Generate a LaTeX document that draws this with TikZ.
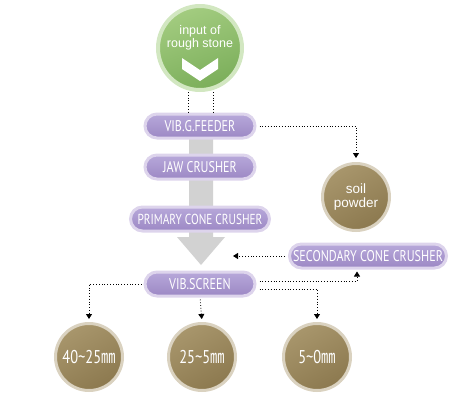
\documentclass[tikz,border=0pt]{standalone}
\usepackage{fontspec}
\setmainfont{Liberation Sans}
\newfontfamily\pillfont{PT Sans}
\newfontfamily\cjk{Noto Sans CJK KR}
\usetikzlibrary{positioning}
\usetikzlibrary{arrows.meta}
\usetikzlibrary{backgrounds}

\definecolor{leaf}{HTML}{8DC06B}
\definecolor{leaflight}{HTML}{A3CC80}
\definecolor{leafdark}{HTML}{7BAE5A}
\definecolor{leafrim}{HTML}{D2E7C1}
\definecolor{lilac}{HTML}{9C88C4}
\definecolor{lilaclight}{HTML}{B7A8DA}
\definecolor{lilacrim}{HTML}{DDD4EC}
\definecolor{clay}{HTML}{8C794F}
\definecolor{claylight}{HTML}{A8966C}
\definecolor{clayrim}{HTML}{DAD2C0}
\definecolor{barcol}{HTML}{D2D2D2}

\newcommand{\narrow}[1]{\scalebox{0.78}[1]{#1}}
\newcommand{\unitmm}{{\cjk ㎜}}

\begin{document}
\begin{tikzpicture}[x=1pt,y=-1pt,
    pill/.style={rectangle, rounded corners=12pt, minimum width=110pt,
      minimum height=24pt, inner sep=0pt, line width=3pt, draw=lilacrim,
      top color=lilaclight, bottom color=lilac, text=white,
      font=\pillfont\fontsize{15.5}{15.5}\selectfont},
    greenball/.style={circle, minimum size=84pt, inner sep=0pt,
      line width=4pt, draw=leafrim, top color=leaflight, bottom color=leafdark,
      shading angle=20},
    brownball/.style={circle, minimum size=67pt, inner sep=0pt,
      line width=3pt, draw=clayrim, top color=claylight, bottom color=clay,
      shading angle=30, text=white, align=center},
    balltext/.style={text=white, align=center, inner sep=0pt,
      font=\fontsize{12.5}{13.5}\selectfont},
    sizetext/.style={font=\pillfont\fontsize{18.5}{18.5}\selectfont},
    flow/.style={dotted, line width=0.8pt, -{Triangle[width=6pt,length=5pt]}},
    feed/.style={dotted, line width=0.8pt}]
  \useasboundingbox (0,0) rectangle (472,400);

  % main chain
  \node[greenball] (input) at (200,48) {};
  \node[balltext] (inputtext) at (200,38) {input of\\rough stone};
  \fill[white] (input.center) ++(-18,10) -- ++(18,12) -- ++(18,-12)
    -- ++(0,11) -- ++(-18,12) -- ++(-18,-12) -- cycle;

  \node[pill] (feeder) at (200,126) {\narrow{VIB.G.FEEDER}};
  \node[pill] (jaw) at (200,167) {\narrow{JAW CRUSHER}};
  \node[pill, minimum width=139pt, font=\pillfont\fontsize{14.5}{14.5}\selectfont]
    (primary) at (200,219) {\narrow{PRIMARY CONE CRUSHER}};
  \node[pill] (screen) at (200,284) {\narrow{VIB.SCREEN}};
  \node[pill, minimum width=157pt] (secondary) at (368,256)
    {\narrow{SECONDARY CONE CRUSHER}};

  % products
  \node[brownball, font=\fontsize{13.5}{13.5}\selectfont] (soil) at (356,197)
    {soil\\powder};
  \node[brownball, sizetext] (coarse) at (89,357)
    {\narrow{40\textasciitilde 25\unitmm}};
  \node[brownball, sizetext] (medium) at (202,357)
    {\narrow{25\textasciitilde 5\unitmm}};
  \node[brownball, sizetext] (fine) at (317,357)
    {\narrow{5\textasciitilde 0\unitmm}};

  % connectors
  \draw[feed] ([xshift=-12pt]input.south) -- ([xshift=-12pt]feeder.north);
  \draw[feed] ([xshift=13pt]input.south) -- ([xshift=13pt]feeder.north);
  \draw[flow, shorten <=3pt, shorten >=4pt] (feeder.east) -| (soil.north);
  \coordinate (return) at (233,256);
  \draw[flow, shorten <=3pt] (secondary.west) -- (return);
  \draw[flow, shorten <=2pt, shorten >=3pt] (screen.west) -| (coarse.north);
  \draw[flow, shorten <=2pt, shorten >=3pt] (screen.south) -- (medium.north);
  \draw[flow, shorten <=3pt, shorten >=2pt] ([yshift=3pt]screen.east)
    -| ([xshift=-11pt]secondary.south);
  \draw[flow, shorten <=3pt, shorten >=3pt] ([yshift=-5pt]screen.east)
    -| (fine.north);

  % grey flow arrow behind the chain
  \begin{scope}[on background layer]
    \fill[barcol] (189,135) -- (213,135) -- (213,237) -- (225,237)
      -- (201,265) -- (177,237) -- (189,237) -- cycle;
  \end{scope}
\end{tikzpicture}
\end{document}
